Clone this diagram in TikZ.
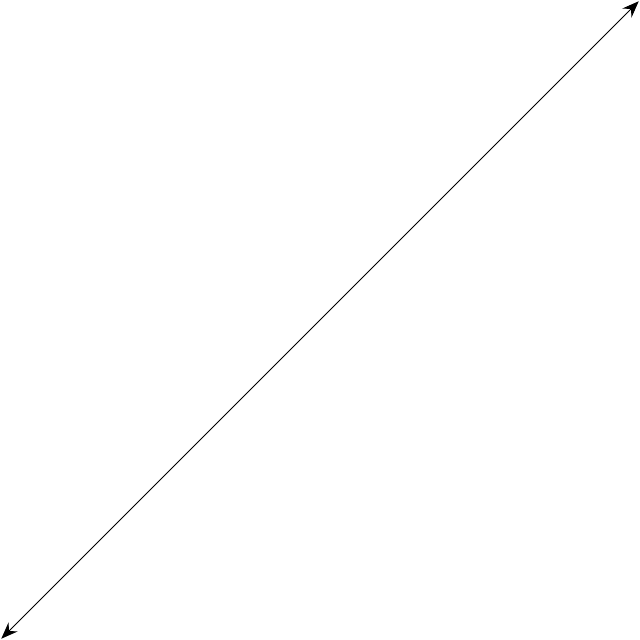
\documentclass[tikz,border=0pt]{standalone}
\usepackage{tikz}
\usetikzlibrary{arrows.meta}
\begin{document}
\begin{tikzpicture}
\tikzstyle{axisline}=[{Stealth[length=2.6mm,width=2mm,inset=0.9mm]}-{Stealth[length=2.6mm,width=2mm,inset=0.9mm]},thin,black]
\useasboundingbox (0,0) rectangle (10,10);
\coordinate (P0) at (0.02,0.02);
\coordinate (P1) at (9.98,9.98);
\draw [axisline] (P0) -- (P1);
\end{tikzpicture}
\end{document}
